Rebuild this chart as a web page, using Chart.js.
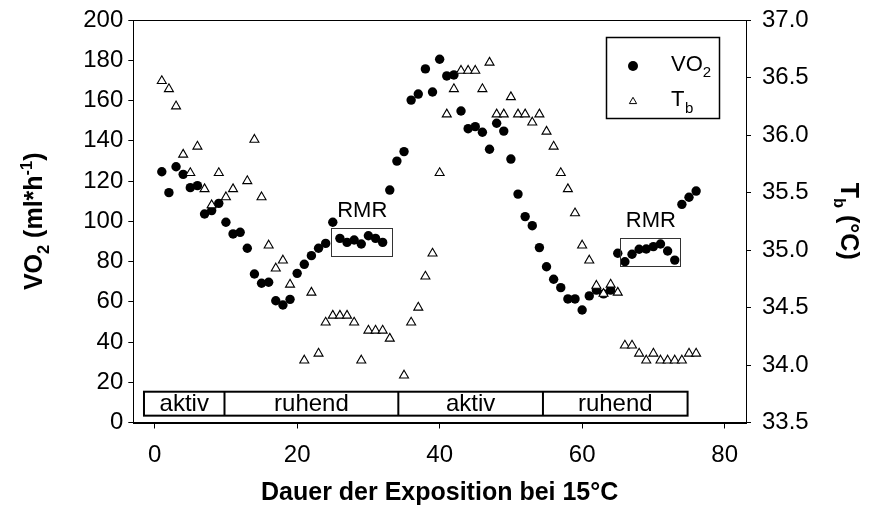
<!DOCTYPE html>
<html>
<head>
<meta charset="utf-8">
<script src="https://cdn.jsdelivr.net/npm/chart.js@4.4.1/dist/chart.umd.min.js"></script>
<style>
  html, body { margin: 0; padding: 0; background: #fff; }
  #wrap { width: 871px; height: 514px; }
</style>
</head>
<body>
<div id="wrap"><canvas id="c" width="871" height="514"></canvas></div>
<script>
// Exposure time (h) at 15 °C
const minutes = [1,2,3,4,5,6,7,8,9,10,11,12,13,14,15,16,17,18,19,20,21,22,23,24,25,26,27,28,29,30,31,32,33,34,35,36,37,38,39,40,41,42,43,44,45,46,47,48,49,50,51,52,53,54,55,56,57,58,59,60,61,62,63,64,65,66,67,68,69,70,71,72,73,74,75,76];

// Oxygen consumption (ml*h-1)
const vo2 = [124.6,114.2,127.1,123.3,116.7,117.7,103.6,105.3,108.9,99.5,93.7,94.5,86.6,73.8,69.2,69.7,60.5,58.4,61.2,74.1,
             78.6,82.9,86.6,89.0,99.5,91.5,89.5,90.7,88.7,92.8,91.5,89.5,115.5,129.9,134.6,160.2,163.2,175.7,164.2,180.5,
             172.2,172.7,154.8,146.0,147.0,144.2,135.8,148.7,144.8,130.9,113.5,102.3,97.8,86.9,77.4,71.2,67.0,61.4,61.4,55.9,
             62.9,65.8,63.9,65.8,84.1,79.9,83.6,86.1,86.2,87.4,88.7,85.2,80.7,108.4,111.9,115.0];

// Body temperature (°C); null = no reading
const tb = [36.47,36.40,36.25,35.83,35.67,35.90,35.53,35.39,35.67,35.46,35.53,null,35.60,35.96,35.46,35.04,34.84,34.91,34.70,null,
            34.04,34.63,34.10,34.37,34.43,34.43,34.43,34.37,34.04,34.30,34.30,34.30,34.23,null,33.91,34.37,34.50,34.77,34.97,35.67,
            36.18,36.40,36.56,36.56,36.56,36.40,36.63,36.18,36.18,36.33,36.18,36.18,36.11,36.18,36.03,35.90,35.67,35.53,35.32,35.04,
            34.91,34.69,34.62,34.70,34.63,34.17,34.17,34.10,34.04,34.10,34.04,34.04,34.04,34.04,34.10,34.10];

// Tick values
const xTicks = [0, 20, 40, 60, 80];
const vo2Ticks = [0, 20, 40, 60, 80, 100, 120, 140, 160, 180, 200];
const tbTicks = [33.5, 34.0, 34.5, 35.0, 35.5, 36.0, 36.5, 37.0];

// Activity phases (time boundaries)
const phaseLabels = ['aktiv', 'ruhend', 'aktiv', 'ruhend'];
const phaseBounds = [-1.5, 9.8, 34.2, 54.5, 74.8];

// Resting metabolic rate windows: time range and VO2 range
const rmrStart = [24.7, 65.3];
const rmrEnd = [33.3, 73.7];
const rmrLow = [82.7, 77.4];
const rmrHigh = [96.8, 91.5];

const FONT = '"Liberation Sans", Arial, Helvetica, sans-serif';

// draws a run of text pieces with sub/superscripts, centred on cx, baseline at by
function richText(ctx, parts, cx, by, size, bold) {
  const w = bold ? 'bold ' : '';
  let total = 0;
  const measured = parts.map(p => {
    const s = p.s ? size * 0.66 : size;
    ctx.font = w + s + 'px ' + FONT;
    const m = ctx.measureText(p.t).width;
    total += m;
    return { p, s, m };
  });
  let x = cx - total / 2;
  ctx.textAlign = 'left';
  ctx.textBaseline = 'alphabetic';
  measured.forEach(({ p, s, m }) => {
    ctx.font = w + s + 'px ' + FONT;
    let dy = 0;
    if (p.s === 'sub') dy = size * 0.28;
    if (p.s === 'sup') dy = -size * 0.42;
    ctx.fillText(p.t, x, by + dy);
    x += m;
  });
}

const decorations = {
  id: 'decorations',
  afterDraw(chart) {
    const { ctx, chartArea: a, scales } = chart;
    const sx = scales.x, sy = scales.y;
    ctx.save();
    ctx.fillStyle = '#000';
    ctx.strokeStyle = '#000';

    // frame
    ctx.lineWidth = 1;
    ctx.strokeRect(Math.round(a.left) + 0.5, Math.round(a.top) + 0.5,
                   Math.round(a.right - a.left), Math.round(a.bottom - a.top));

    // activity bar
    const yTop = sy.getPixelForValue(15.3), yBot = sy.getPixelForValue(3.4);
    ctx.lineWidth = 2;
    ctx.strokeRect(sx.getPixelForValue(phaseBounds[0]), yTop,
                   sx.getPixelForValue(phaseBounds[phaseBounds.length - 1]) - sx.getPixelForValue(phaseBounds[0]),
                   yBot - yTop);
    for (let i = 1; i < phaseBounds.length - 1; i++) {
      const px = sx.getPixelForValue(phaseBounds[i]);
      ctx.beginPath(); ctx.moveTo(px, yTop); ctx.lineTo(px, yBot); ctx.stroke();
    }
    ctx.font = '24px ' + FONT;
    ctx.textAlign = 'center';
    ctx.textBaseline = 'middle';
    phaseLabels.forEach((lab, i) => {
      const cx = (sx.getPixelForValue(phaseBounds[i]) + sx.getPixelForValue(phaseBounds[i + 1])) / 2;
      ctx.fillText(lab, cx, (yTop + yBot) / 2 + 1);
    });

    // RMR windows
    ctx.lineWidth = 1;
    ctx.strokeStyle = '#333';
    rmrStart.forEach((t0, i) => {
      const x0 = sx.getPixelForValue(t0), x1 = sx.getPixelForValue(rmrEnd[i]);
      const y0 = sy.getPixelForValue(rmrHigh[i]), y1 = sy.getPixelForValue(rmrLow[i]);
      ctx.strokeRect(Math.round(x0) + 0.5, Math.round(y0) + 0.5, Math.round(x1 - x0), Math.round(y1 - y0));
      ctx.font = '22px ' + FONT;
      ctx.textAlign = 'center';
      ctx.textBaseline = 'alphabetic';
      ctx.fillText('RMR', (x0 + x1) / 2 + 1, y0 - 11);
    });

    // legend
    ctx.strokeStyle = '#000';
    ctx.lineWidth = 1.5;
    ctx.strokeRect(606.5, 37.5, 113, 81);
    ctx.beginPath(); ctx.arc(633, 66, 5, 0, Math.PI * 2); ctx.fill();
    ctx.lineWidth = 1;
    const r = 4.2, tx = 633, ty = 101.5;
    ctx.beginPath();
    ctx.moveTo(tx, ty - r);
    ctx.lineTo(tx + r * 0.866, ty + r / 2);
    ctx.lineTo(tx - r * 0.866, ty + r / 2);
    ctx.closePath(); ctx.stroke();
    ctx.fillStyle = '#000';
    ctx.font = '22px ' + FONT;
    ctx.textAlign = 'left';
    ctx.textBaseline = 'alphabetic';
    ctx.fillText('VO', 671, 71);
    let w = ctx.measureText('VO').width;
    ctx.font = '15px ' + FONT;
    ctx.fillText('2', 671 + w, 77);
    ctx.font = '22px ' + FONT;
    ctx.fillText('T', 671, 106);
    w = ctx.measureText('T').width;
    ctx.font = '15px ' + FONT;
    ctx.fillText('b', 671 + w + 0.5, 113);

    // axis titles
    const midY = (a.top + a.bottom) / 2;
    richText(ctx, [{ t: 'Dauer der Exposition bei 15°C' }], (a.left + a.right) / 2, 500, 25, true);

    ctx.save();
    ctx.translate(33, midY);
    ctx.rotate(-Math.PI / 2);
    richText(ctx, [{ t: 'VO' }, { t: '2', s: 'sub' }, { t: ' (ml*h' }, { t: '-1', s: 'sup' }, { t: ')' }], 0, 9, 25, true);
    ctx.restore();

    ctx.save();
    ctx.translate(850, midY);
    ctx.rotate(Math.PI / 2);
    richText(ctx, [{ t: 'T' }, { t: 'b', s: 'sub' }, { t: ' (°C)' }], 0, 9, 25, true);
    ctx.restore();

    ctx.restore();
  }
};

const setTicks = values => scale => { scale.ticks = values.map(v => ({ value: v })); };
const fixWidth = w => s => { s.width = w; s.paddingTop = 0; s.paddingBottom = 0; };

new Chart(document.getElementById('c'), {
  type: 'scatter',
  data: {
    datasets: [
      {
        label: 'Tb',
        yAxisID: 'y2',
        order: 0,
        data: minutes.map((t, i) => ({ x: t, y: tb[i] })).filter(p => p.y !== null),
        pointStyle: 'triangle',
        pointRadius: 5.2,
        pointBackgroundColor: '#fff',
        pointBorderColor: '#000',
        pointBorderWidth: 1.1
      },
      {
        label: 'VO2',
        yAxisID: 'y',
        order: 1,
        data: minutes.map((t, i) => ({ x: t, y: vo2[i] })),
        pointStyle: 'circle',
        pointRadius: 4.7,
        pointBackgroundColor: '#000',
        pointBorderColor: '#000',
        pointBorderWidth: 0
      }
    ]
  },
  options: {
    responsive: false,
    animation: false,
    devicePixelRatio: 1,
    layout: { padding: { top: 20, left: 0, right: 0, bottom: 0 } },
    plugins: { legend: { display: false }, tooltip: { enabled: false } },
    scales: {
      x: {
        type: 'linear', position: 'bottom', min: -3, max: 83,
        afterBuildTicks: setTicks(xTicks),
        afterFit: s => { s.height = 91.5; s.paddingLeft = 0; s.paddingRight = 0; },
        grid: { drawOnChartArea: false, drawTicks: true, tickLength: 6, tickColor: '#000', tickWidth: 1 },
        border: { display: true, color: '#000', width: 1 },
        ticks: { color: '#000', font: { family: FONT, size: 24 }, padding: 12, maxRotation: 0 }
      },
      y: {
        type: 'linear', position: 'left', min: 0, max: 200,
        afterBuildTicks: setTicks(vo2Ticks),
        afterFit: fixWidth(133.3),
        grid: { drawOnChartArea: false, drawTicks: true, tickLength: 5, tickColor: '#000', tickWidth: 1 },
        border: { display: true, color: '#000', width: 1 },
        ticks: { color: '#000', font: { family: FONT, size: 24 }, padding: 5 }
      },
      y2: {
        type: 'linear', position: 'right', min: 33.5, max: 37.0,
        afterBuildTicks: setTicks(tbTicks),
        afterFit: fixWidth(125),
        grid: { drawOnChartArea: false, drawTicks: true, tickLength: 5, tickColor: '#000', tickWidth: 1 },
        border: { display: true, color: '#000', width: 1 },
        ticks: { color: '#000', font: { family: FONT, size: 24 }, padding: 11, callback: v => Number(v).toFixed(1) }
      }
    }
  },
  plugins: [decorations]
});
</script>
</body>
</html>
